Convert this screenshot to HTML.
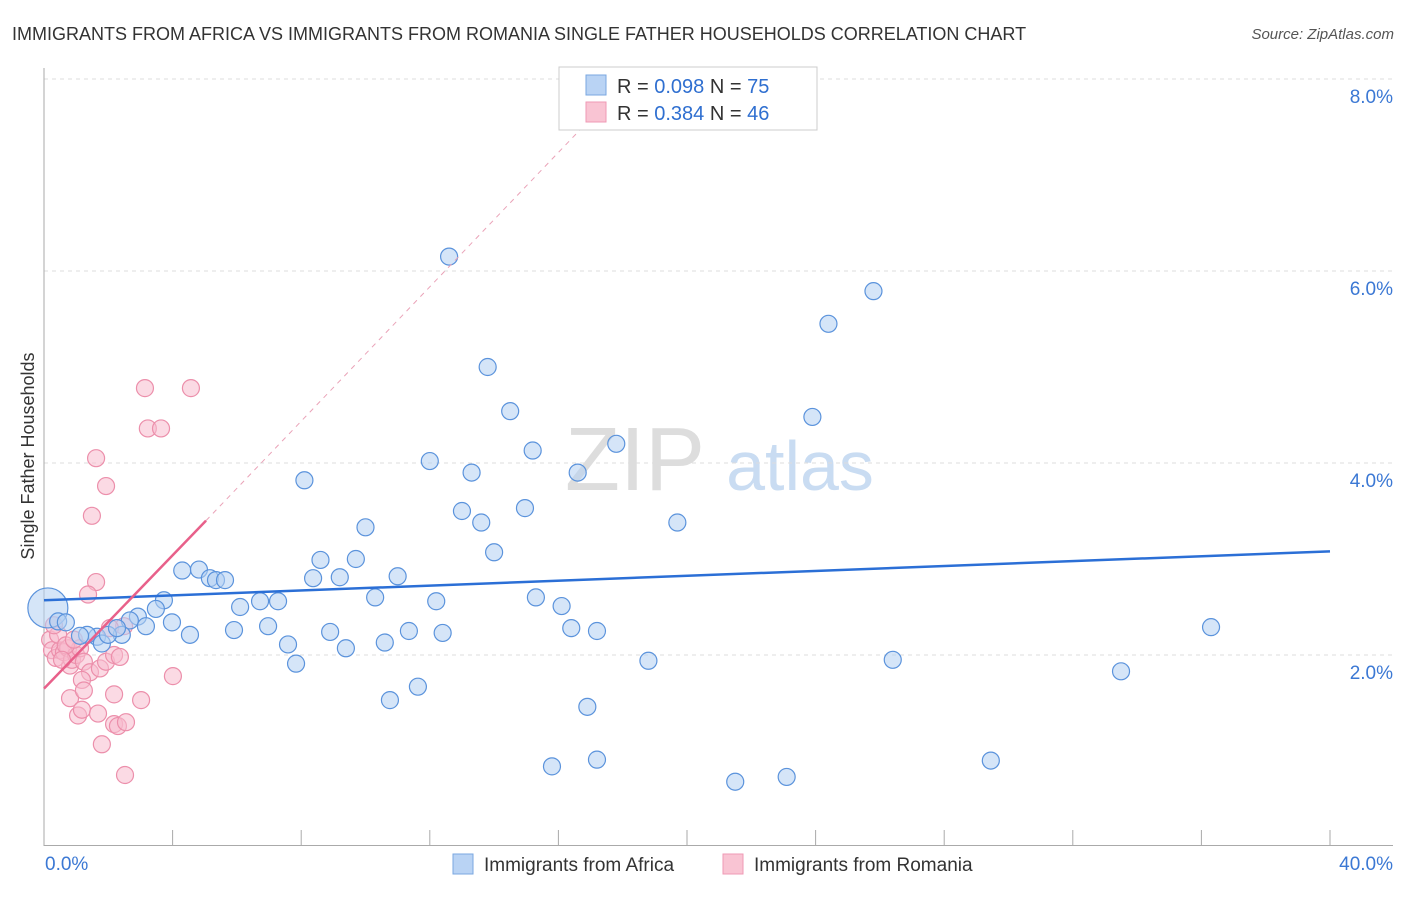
<!DOCTYPE html>
<html><head><meta charset="utf-8"><style>
body{margin:0;background:#fff;font-family:"Liberation Sans",sans-serif}
svg text{font-family:"Liberation Sans",sans-serif}
</style></head><body>
<svg id="c" width="1406" height="892">
<text x="12" y="40" font-size="18" fill="#333">IMMIGRANTS FROM AFRICA VS IMMIGRANTS FROM ROMANIA SINGLE FATHER HOUSEHOLDS CORRELATION CHART</text>
<text x="1394" y="39" font-size="15" fill="#555" text-anchor="end" font-style="italic">Source: ZipAtlas.com</text>
<text x="34" y="456" font-size="18" fill="#333" text-anchor="middle" transform="rotate(-90 34 456)">Single Father Households</text>
<text x="635" y="490" font-size="90" fill="#ddd" font-family="Liberation Serif" text-anchor="middle">ZIP</text>
<text x="800" y="490" font-size="70" fill="#c9dcf2" text-anchor="middle">atlas</text>
<g id="grid"></g><g id="marks"></g>
<g>
<rect x="559" y="67" width="258" height="63" fill="#fff" stroke="#ccc"/>
<rect x="586" y="75" width="20" height="20" fill="#b9d3f4" stroke="#7aa7e0"/>
<rect x="586" y="102" width="20" height="20" fill="#f9c4d3" stroke="#ef9ab4"/>
<text x="617" y="93" font-size="20" fill="#333">R = <tspan fill="#2f6fd0">0.098</tspan>   N = <tspan fill="#2f6fd0">75</tspan></text>
<text x="617" y="120" font-size="20" fill="#333">R = <tspan fill="#2f6fd0">0.384</tspan>   N = <tspan fill="#2f6fd0">46</tspan></text>
</g>
<g>
<rect x="453" y="854" width="20" height="20" fill="#b9d3f4" stroke="#7aa7e0"/>
<text x="484" y="871" font-size="19" fill="#333">Immigrants from Africa</text>
<rect x="723" y="854" width="20" height="20" fill="#f9c4d3" stroke="#ef9ab4"/>
<text x="754" y="871" font-size="19" fill="#333">Immigrants from Romania</text>
</g>
</svg>
<script>
const yTicks=[2,4,6,8];
const xTickLabels=["0.0%","40.0%"];
const africaX=[12.6,25.8,24.4,13.8,14.5,23.9,15.2,17.8,12.0,13.3,16.6,8.1,13.0,14.96,13.6,19.7,10.0,14.0,8.6,9.7,4.3,4.82,5.16,5.35,5.63,8.37,9.2,11.0,3.73,3.48,6.1,6.72,7.28,10.3,12.2,15.3,16.1,2.92,3.98,2.67,3.17,5.91,6.97,8.9,11.35,12.4,16.4,17.2,4.54,2.42,1.65,1.34,1.8,7.59,9.39,10.6,7.84,18.8,26.4,33.5,36.3,11.63,10.76,16.9,15.8,17.2,21.5,23.1,29.45,0.12,0.44,0.68,1.12,1.99,2.27];
const africaY=[6.15,5.79,5.45,5.0,4.54,4.48,4.13,4.2,4.02,3.9,3.9,3.82,3.5,3.53,3.38,3.38,3.33,3.07,2.99,3.0,2.88,2.89,2.8,2.78,2.78,2.8,2.81,2.82,2.57,2.48,2.5,2.56,2.56,2.6,2.56,2.6,2.51,2.4,2.34,2.36,2.3,2.26,2.3,2.24,2.25,2.23,2.28,2.25,2.21,2.21,2.19,2.21,2.12,2.11,2.07,2.13,1.91,1.94,1.95,1.83,2.29,1.67,1.53,1.46,0.84,0.91,0.68,0.73,0.9,2.49,2.35,2.34,2.2,2.21,2.28];
const romaniaX=[3.14,4.57,3.23,3.64,1.62,1.93,1.49,1.62,1.37,0.81,2.49,2.05,0.19,0.25,0.37,0.5,0.62,0.75,0.87,1.0,1.12,1.24,1.43,1.74,1.93,2.18,2.36,1.18,4.01,0.81,1.24,2.18,3.02,1.06,1.18,1.68,2.18,2.3,2.55,1.8,2.52,0.44,0.31,0.68,0.93,0.56];
const romaniaY=[4.78,4.78,4.36,4.36,4.05,3.76,3.45,2.76,2.63,1.89,2.3,2.28,2.16,2.05,1.97,2.05,2.03,2.07,1.95,2.0,2.07,1.93,1.82,1.86,1.93,2.0,1.98,1.74,1.78,1.55,1.63,1.59,1.53,1.37,1.43,1.39,1.28,1.26,1.30,1.07,0.75,2.21,2.31,2.1,2.16,1.95];
const africaTrend=[[0,2.57],[40,3.08]];
const romaniaTrend=[[0,1.65],[5.04,3.4]];
const romaniaDash=[[5.04,3.4],[16.7,7.48]];
const X=v=>44+v*1286/40, Y=v=>847-v*96;
const NS="http://www.w3.org/2000/svg";
const g=document.getElementById('grid'), m=document.getElementById('marks');
function mk(tag,attrs,parent){const e=document.createElementNS(NS,tag);for(const k in attrs)e.setAttribute(k,attrs[k]);parent.appendChild(e);return e;}
yTicks.forEach(t=>{
 const l=mk('line',{x1:44,x2:1393,y1:Y(t),y2:Y(t),stroke:'#ddd','stroke-dasharray':'4,4'},g);
 
 
 const tx=mk('text',{x:1393,y:Y(t)+24,'font-size':19,fill:'#3b78d4','text-anchor':'end'},g);
 tx.textContent=t.toFixed(1)+'%';
 
 
});
const ax=mk('line',{x1:44,x2:44,y1:68,y2:846,stroke:'#aaa'},g);


const bx=mk('line',{x1:44,x2:1393,y1:845.5,y2:845.5,stroke:'#aaa'},g);


for(let i=0;i<=10;i++){
 const t=mk('line',{x1:X(i*4),x2:X(i*4),y1:830,y2:846,stroke:'#aaa'},g);
 
 
}
[[0,'start',45],[40,'end',1393]].forEach((p,i)=>{
 const tx=mk('text',{x:p[2],y:870,'font-size':19,fill:'#3b78d4','text-anchor':p[1]},g);
 tx.textContent=xTickLabels[i];
 
 
});
function pts(xs,ys,fill,stroke,name){
 xs.forEach((x,i)=>{
  const r=(name==='africa-point'&&i===69)?20:8.5;
  const c=mk('circle',{cx:X(x),cy:Y(ys[i]),r:r,fill:fill,'fill-opacity':0.55,stroke:stroke,'stroke-width':1.2},m);
  
  
 });
}
pts(romaniaX,romaniaY,'#f7bccd','#ec8fab','romania-point');
pts(africaX,africaY,'#b3cff2','#5b93dc','africa-point');
function line(p,stroke,w,dash,name){
 const l=mk('line',{x1:X(p[0][0]),y1:Y(p[0][1]),x2:X(p[1][0]),y2:Y(p[1][1]),stroke:stroke,'stroke-width':w},m);
 if(dash)l.setAttribute('stroke-dasharray',dash);
 
 
}
line(africaTrend,'#2b6fd6',2.5,null,'africa-trend-line');
line(romaniaTrend,'#e8608a',2.5,null,'romania-trend-line');
line(romaniaDash,'#eaa3b8',1,'5,5','romania-trend-extension');
</script>
</body></html>
